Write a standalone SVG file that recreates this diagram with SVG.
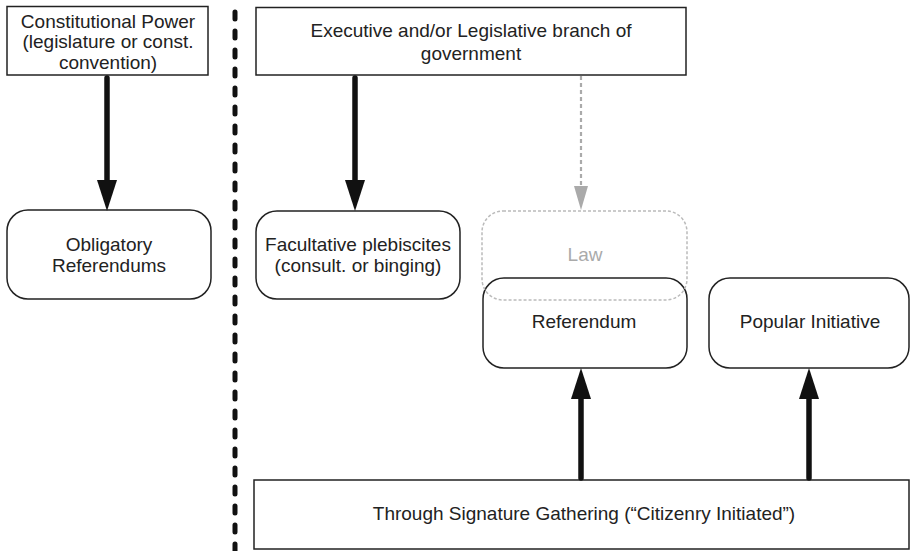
<svg xmlns="http://www.w3.org/2000/svg" width="911" height="551" viewBox="0 0 911 551">
<style>
text{font-family:"Liberation Sans",Arial,sans-serif;font-size:19px;fill:#222;text-anchor:middle}
.box{fill:#fff;stroke:#222;stroke-width:1.5}
.law{fill:none;stroke:#bbb;stroke-width:1.5;stroke-dasharray:3 2}
.arrow{stroke:#111;stroke-width:5.5;fill:none;stroke-linecap:round}
.garrow{stroke:#aaa;stroke-width:2.2;fill:none;stroke-dasharray:4 3}
.divider{stroke:#111;stroke-width:5;stroke-dasharray:7 12;stroke-linecap:round;fill:none}
</style>
<defs>
<marker id="ah" markerUnits="userSpaceOnUse" markerWidth="31" markerHeight="20" refX="0" refY="10" orient="auto" viewBox="0 0 31 20">
<path d="M0,0 L31,10 L0,20 Z" fill="#111"/>
</marker>
<marker id="gh" markerUnits="userSpaceOnUse" markerWidth="24" markerHeight="14" refX="0" refY="7" orient="auto" viewBox="0 0 24 14">
<path d="M0,0 L24,7 L0,14 Z" fill="#aaa"/>
</marker>
</defs>
<line class="divider" x1="235" y1="12" x2="235" y2="551"/>
<g id="constitutional-power">
<rect class="box" x="7" y="6.5" width="201" height="68.5"/>
<text x="108" y="27.5">Constitutional Power</text>
<text x="108" y="48">(legislature or const.</text>
<text x="108" y="68.5">convention)</text>
</g>
<g id="executive-legislative">
<rect class="box" x="256" y="7.5" width="430" height="67.5"/>
<text x="471" y="37">Executive and/or Legislative branch of</text>
<text x="471" y="59.5">government</text>
</g>
<g id="obligatory">
<rect class="box" x="7" y="210" width="204" height="89" rx="21"/>
<text x="109" y="251">Obligatory</text>
<text x="109" y="272">Referendums</text>
</g>
<g id="facultative">
<rect class="box" x="256" y="211" width="204" height="88" rx="21"/>
<text x="358" y="251">Facultative plebiscites</text>
<text x="358" y="272">(consult. or binging)</text>
</g>
<g id="referendum">
<rect class="box" x="483" y="278" width="204" height="90" rx="21"/>
<text x="584" y="328">Referendum</text>
</g>
<g id="law">
<rect class="law" x="482" y="211" width="205" height="89" rx="21"/>
<text x="585" y="261" style="fill:#aaa">Law</text>
</g>
<g id="popular-initiative">
<rect class="box" x="709" y="278" width="200" height="90" rx="21"/>
<text x="810" y="328">Popular Initiative</text>
</g>
<g id="signature-gathering">
<rect class="box" x="254" y="480" width="655" height="69"/>
<text x="584" y="520">Through Signature Gathering (“Citizenry Initiated”)</text>
</g>
<g id="connectors">
<line class="arrow" x1="107" y1="78" x2="107" y2="180" marker-end="url(#ah)"/>
<line class="arrow" x1="355" y1="78" x2="355" y2="180" marker-end="url(#ah)"/>
<line class="garrow" x1="581" y1="76" x2="581" y2="186" marker-end="url(#gh)"/>
<line class="arrow" x1="581" y1="478" x2="581" y2="399" marker-end="url(#ah)"/>
<line class="arrow" x1="809" y1="478" x2="809" y2="399" marker-end="url(#ah)"/>
</g>
</svg>
